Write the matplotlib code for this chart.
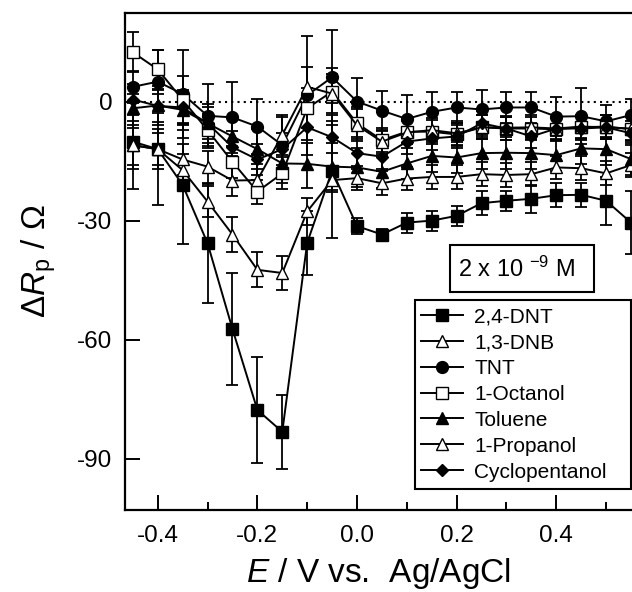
import matplotlib
matplotlib.use("Agg")
import matplotlib.pyplot as plt
from matplotlib.patches import Rectangle

plt.rcParams['font.family'] = ['Liberation Sans', 'DejaVu Sans']
plt.rcParams['mathtext.fontset'] = 'custom'
plt.rcParams['mathtext.rm'] = 'Liberation Sans'
plt.rcParams['mathtext.it'] = 'Liberation Sans:italic'
plt.rcParams['mathtext.bf'] = 'Liberation Sans:bold'

# potentials (V vs Ag/AgCl)
E = [-0.45, -0.40, -0.35, -0.30, -0.25, -0.20, -0.15, -0.10, -0.05, 0.00, 0.05,
     0.10, 0.15, 0.20, 0.25, 0.30, 0.35, 0.40, 0.45, 0.50, 0.55]

dnt = [-10.1, -12.0, -21.0, -35.7, -57.3, -77.7, -83.2, -35.6, -17.4, -31.4, -33.5,
       -30.5, -30.0, -28.8, -25.6, -25.0, -24.5, -23.6, -23.5, -25.0, -30.5]
dnt_err = [12, 14, 15, 15, 14, 13.4, 9.3, 8, 17, 2, 1.5, 2.5, 2.5, 2.5, 3, 2.5, 3.5, 3, 3, 6, 8]

dnb = [-11.0, -12.0, -17.3, -25.2, -33.5, -42.4, -43.2, -27.7, -19.8, -19.3, -20.6,
       -19.4, -19.0, -19.0, -18.3, -18.5, -18.3, -16.6, -16.8, -18.1, -16.0]
dnb_err = [6, 5, 4, 4, 4.3, 4.4, 4.3, 3.5, 3, 3, 3, 3, 3, 3, 3, 3, 3, 3, 3, 3, 3]

tnt = [3.7, 5.0, 1.9, -3.6, -4.0, -6.3, -11.0, 1.6, 6.1, 0.0, -2.3,
       -4.4, -2.6, -1.5, -2.0, -1.5, -1.5, -3.8, -3.7, -5.0, -3.4]
tnt_err = [4, 8, 11, 8, 9, 7, 7, 15, 12, 6, 5, 6, 5, 4, 5, 4, 4, 5, 7, 4, 4]

octanol = [12.4, 8.1, 0.4, -7.2, -15.2, -22.7, -18.1, -1.7, 2.5, -5.5, -9.7,
           -7.6, -7.6, -8.3, -6.5, -6.8, -6.8, -7.0, -6.5, -6.3, -7.0]
octanol_err = [5, 5, 6, 4, 4, 3, 4, 5, 6, 4, 3, 3, 3, 3, 3, 3, 3, 3, 3, 3, 3]

toluene = [-1.7, -1.0, -2.1, -5.5, -8.8, -12.0, -15.6, -15.7, -16.4, -16.6, -17.7,
           -15.6, -13.7, -14.1, -13.0, -12.9, -13.0, -13.5, -11.8, -12.0, -14.5]
toluene_err = [5, 5, 5, 5, 5, 5, 5, 6, 6, 5, 4, 4, 4, 4, 4, 4, 4, 4, 4, 4, 4]

propanol = [-11.0, -12.0, -14.6, -16.4, -19.9, -19.8, -8.4, 3.7, 2.0, -6.0, -10.1,
            -7.8, -7.2, -8.0, -6.5, -6.6, -6.5, -6.8, -6.3, -6.5, -6.8]
propanol_err = [5, 4, 4, 4, 4, 4, 5, 5, 5, 4, 3, 3, 3, 3, 3, 3, 3, 3, 3, 3, 3]

cyclopentanol = [0.5, -1.1, -1.5, -5.5, -11.5, -14.6, -12.0, -6.5, -9.0, -13.0, -13.9,
                 -10.1, -9.3, -8.8, -5.5, -6.8, -8.8, -6.8, -6.8, -6.5, -8.0]
cyclopentanol_err = [4, 4, 4, 4, 4, 4, 4, 4, 4, 4, 3, 3, 3, 3, 3, 3, 3, 3, 3, 3, 3]

series = [
    ("2,4-DNT", dnt, dnt_err, 's', 'black', 8),
    ("1,3-DNB", dnb, dnb_err, '^', 'white', 8.5),
    ("TNT", tnt, tnt_err, 'o', 'black', 8.5),
    ("1-Octanol", octanol, octanol_err, 's', 'white', 8),
    ("Toluene", toluene, toluene_err, '^', 'black', 8.5),
    ("1-Propanol", propanol, propanol_err, '^', 'white', 8.5),
    ("Cyclopentanol", cyclopentanol, cyclopentanol_err, 'D', 'black', 6),
]

W, H = 632, 592
fig = plt.figure(figsize=(W / 100, H / 100), dpi=100)
ax = fig.add_axes([125 / W, (H - 510) / H, (636 - 125) / W, (510 - 13) / H])

ax.axhline(0, color='black', linestyle=(0, (1, 2)), linewidth=1.5, zorder=1)

for name, y, err, mk, fc, ms in series:
    ax.errorbar(E, y, yerr=err, fmt='none', ecolor='black', elinewidth=1.3,
                capsize=4.5, capthick=1.3, zorder=2)
for name, y, err, mk, fc, ms in series:
    ax.plot(E, y, color='black', linewidth=1.4, marker=mk, markersize=ms,
            markerfacecolor=fc, markeredgecolor='black', markeredgewidth=1.0,
            label=name, zorder=3)

ax.set_xlim(-0.4657, 0.56)
ax.set_ylim(-102.9, 22.3)
ax.set_xticks([-0.4, -0.2, 0.0, 0.2, 0.4])
ax.set_xticklabels(['-0.4', '-0.2', '0.0', '0.2', '0.4'])
ax.set_xticks([-0.3, -0.1, 0.1, 0.3, 0.5], minor=True)
ax.set_yticks([0, -30, -60, -90])
ax.set_yticklabels(['0', '-30', '-60', '-90'])
ax.tick_params(axis='both', which='major', direction='in', length=11, width=1.4,
               labelsize=17.5)
ax.tick_params(axis='x', which='major', pad=11)
ax.tick_params(axis='y', which='major', pad=9)
ax.tick_params(axis='x', which='minor', direction='in', length=6, width=1.4)
for s in ax.spines.values():
    s.set_linewidth(1.6)

ax.set_xlabel(r'$\mathit{E}$ / V vs.  Ag/AgCl', fontsize=24)
ax.set_ylabel(r'$\Delta\mathit{R}_{\mathrm{p}}$ / $\Omega$', fontsize=24, labelpad=14)
ax.xaxis.set_label_coords((378 - 125) / (636 - 125), -0.093)

leg = ax.legend(loc='upper left', bbox_to_anchor=(415 / W, 1 - 301 / H),
                bbox_transform=fig.transFigure, fontsize=15, frameon=False,
                handlelength=2.0, handletextpad=0.55, labelspacing=0.33,
                borderpad=0.3, borderaxespad=0)

fig.patches.append(Rectangle((415 / W, 1 - 489 / H), (631 - 415) / W, (489 - 300) / H,
                             transform=fig.transFigure, facecolor='none',
                             edgecolor='black', linewidth=1.5, zorder=5))
fig.patches.append(Rectangle((450 / W, 1 - 292 / H), (594 - 450) / W, (292 - 245) / H,
                             transform=fig.transFigure, facecolor='white',
                             edgecolor='black', linewidth=1.5, zorder=5))
fig.text(516 / W, 1 - 269 / H, r'2 x 10 $^{\mathregular{-9}}$ M', fontsize=17,
         ha='center', va='center', zorder=6)

fig.savefig('out.png', dpi=100)
